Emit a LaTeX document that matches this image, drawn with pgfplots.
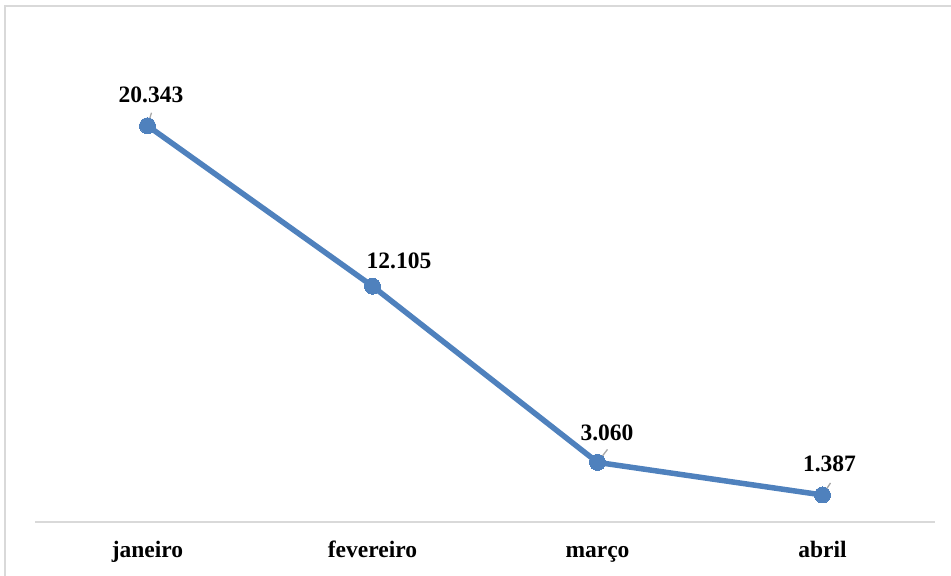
\documentclass[border=0pt]{standalone}
\usepackage{fontspec}
\setmainfont{Liberation Serif}
\usepackage{pgfplots}
\pgfplotsset{compat=1.18}

\definecolor{lineblue}{RGB}{79,129,189}
\definecolor{framegray}{RGB}{217,217,217}
\definecolor{leadergray}{RGB}{166,166,166}

\pgfplotstableread{
x y lbl dx dy
0 20343 20.343 3.5 23
1 12105 12.105 26.5 18
2 3060 3.060 9.5 22
3 1387 1.387 7 23
}\vendas

\begin{document}
\begin{tikzpicture}
\begin{axis}[
  at={(35bp,54bp)}, anchor=south west,
  scale only axis,
  width=900bp, height=487bp,
  xmin=-0.5, xmax=3.5,
  ymin=0, ymax=25000,
  axis x line=bottom,
  axis y line=none,
  x axis line style={draw=framegray, line width=1.5bp, -},
  xtick={0,1,2,3},
  xticklabels={janeiro,fevereiro,março,abril},
  major tick length=0pt,
  xticklabel style={anchor=base, yshift=-35bp, font=\fontsize{23.5bp}{28bp}\selectfont\bfseries},
  clip=false,
]
\addplot[
  color=lineblue, line width=5.5bp,
  mark=*, mark size=8bp,
  mark options={fill=lineblue, draw=lineblue, line width=0pt},
  visualization depends on={\thisrow{dx}\as\dx},
  visualization depends on={\thisrow{dy}\as\dy},
  point meta=explicit symbolic,
  nodes near coords,
  nodes near coords style={anchor=base, xshift=\dx bp, yshift=\dy bp,
    text=black, font=\fontsize{23.5bp}{28bp}\selectfont\bfseries},
] table[x=x, y=y, meta=lbl] {\vendas};
\draw[leadergray, line width=1.3bp] (axis cs:0,20343) -- ++(4bp,13bp);
\draw[leadergray, line width=1.3bp] (axis cs:2,3060) -- ++(10bp,13bp);
\draw[leadergray, line width=1.3bp] (axis cs:3,1387) -- ++(8bp,12bp);
\end{axis}
\draw[framegray, line width=1.5bp] (5bp,-2bp) -- (5bp,570bp) -- (953bp,570bp);
\pgfresetboundingbox
\path[use as bounding box] (0,0) rectangle (951bp,576bp);
\end{tikzpicture}
\end{document}
